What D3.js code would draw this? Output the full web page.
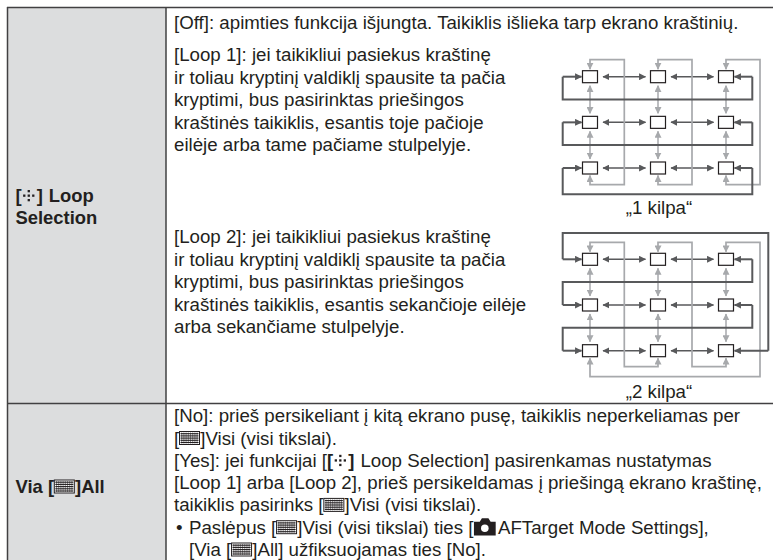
<!DOCTYPE html>
<meta charset="utf-8">
<style>
    html, body { margin: 0; background: #fff; }
    svg { display: block; }
    text { font-family: "Liberation Sans", Arial, sans-serif; font-size: 18.7px; fill: #231f20; white-space: pre; }
    .bold { font-weight: bold; font-size: 18.4px; }
</style>
<svg id="chart" width="773" height="560"></svg>
<script src="https://d3js.org/d3.v7.min.js"></script>
<script>
    const columns = [0, 1, 2];
    const rows = [0, 1, 2];
    const dark = "#58595b";
    const light = "#a7a9ac";

    // wrap-around loops as [column, row] anchors, strings are named gutters
    const loop1Dark = [
        [["L", 0], ["L", "r0"], ["R", "r0"], ["R", 0]],
        [["L", 1], ["L", "r1"], ["R", "r1"], ["R", 1]],
        [["L", 2], ["L", "r2"], ["R", "r2"], ["R", 2]]
    ];
    const loop1Light = [
        [[0, "inTop"], [0, "top"], ["c0", "top"], ["c0", "bot"], [0, "bot"], [0, "inBot"]],
        [[1, "inTop"], [1, "top"], ["c1", "top"], ["c1", "bot"], [1, "bot"], [1, "inBot"]],
        [[2, "inTop"], [2, "top"], ["c2", "top"], ["c2", "bot"], [2, "bot"], [2, "inBot"]]
    ];
    const loop2Dark = [
        [["L", 0], ["L", "top2"], ["O", "top2"], ["O", 2]],
        [["R", 0], ["R", "r0"], ["L", "r0"], ["L", 1]],
        [["R", 1], ["R", "r1"], ["L", "r1"], ["L", 2]]
    ];
    const loop2Light = [
        [[0, "inTop"], [0, "top"], ["c0", "top"], ["c0", "bot"], [1, "bot"], [1, "inBot"]],
        [[1, "inTop"], [1, "top"], ["c1", "top"], ["c1", "bot"], [2, "bot"], [2, "inBot"]],
        [[2, "inTop"], [2, "top"], ["c2", "top"], ["c2", "bot2"], [0, "bot2"], [0, "inBot"]]
    ];

    const textLines = [
        { x: 174, y: 28.5, parts: ["[Off]: apimties funkcija išjungta. Taikiklis išlieka tarp ekrano kraštinių."] },
        { x: 174, y: 61, parts: ["[Loop 1]: jei taikikliui pasiekus kraštinę"] },
        { x: 174, y: 83.5, parts: ["ir toliau kryptinį valdiklį spausite ta pačia"] },
        { x: 174, y: 106, parts: ["kryptimi, bus pasirinktas priešingos"] },
        { x: 174, y: 128.5, parts: ["kraštinės taikiklis, esantis toje pačioje"] },
        { x: 174, y: 151, parts: ["eilėje arba tame pačiame stulpelyje."] },
        { x: 174, y: 243, parts: ["[Loop 2]: jei taikikliui pasiekus kraštinę"] },
        { x: 174, y: 265.5, parts: ["ir toliau kryptinį valdiklį spausite ta pačia"] },
        { x: 174, y: 288, parts: ["kryptimi, bus pasirinktas priešingos"] },
        { x: 174, y: 310.5, parts: ["kraštinės taikiklis, esantis sekančioje eilėje"] },
        { x: 174, y: 333, parts: ["arba sekančiame stulpelyje."] },
        { x: 174, y: 422.2, parts: ["[No]: prieš persikeliant į kitą ekrano pusę, taikiklis neperkeliamas per"] },
        { x: 174, y: 444.5, parts: ["[", "grid", "]Visi (visi tikslai)."] },
        { x: 174, y: 466.8, parts: ["[Yes]: jei funkcijai [", "loop", "Loop Selection] pasirenkamas nustatymas"] },
        { x: 174, y: 489.1, parts: ["[Loop 1] arba [Loop 2], prieš persikeldamas į priešingą ekrano kraštinę,"] },
        { x: 174, y: 511.4, parts: ["taikiklis pasirinks [", "grid", "]Visi (visi tikslai)."] },
        { x: 176, y: 533.7, parts: ["•"] },
        { x: 189, y: 533.7, parts: ["Paslėpus [", "grid", "]Visi (visi tikslai) ties [", "cam", "AFTarget Mode Settings],"] },
        { x: 189, y: 556, parts: ["[Via [", "grid", "]All] užfiksuojamas ties [No]."] }
    ];
    const headLines = [
        { x: 15.5, y: 202, parts: ["loop", "Loop"] },
        { x: 15.5, y: 224, parts: ["Selection"] },
        { x: 15.5, y: 493, parts: ["Via [", "grid", "]All"] }
    ];
    const captions = [
        { x: 659, y: 214, label: "„1 kilpa“" },
        { x: 659, y: 398, label: "„2 kilpa“" }
    ];

    const svg = d3.select("#chart");
    const defs = svg.append("defs");
    [["d", dark], ["l", light]].forEach(([id, col]) => {
        defs.append("marker").attr("id", "arrow-" + id)
            .attr("viewBox", "0 0 6 6").attr("refX", 5.5).attr("refY", 3)
            .attr("markerUnits", "userSpaceOnUse")
            .attr("markerWidth", 7).attr("markerHeight", 7).attr("orient", "auto-start-reverse")
            .append("path").attr("d", "M0,0L6,3L0,6Z").attr("fill", col);
    });

    // table background and rules
    svg.append("rect").attr("x", 7).attr("y", 7).attr("width", 159).attr("height", 553).attr("fill", "#dcddde");
    const rules = [[7, 7.5, 773, 7.5], [7, 403.5, 773, 403.5], [7.5, 7, 7.5, 560], [166, 7, 166, 560]];
    svg.append("g").selectAll("line").data(rules).enter().append("line")
        .attr("x1", d => d[0]).attr("y1", d => d[1]).attr("x2", d => d[2]).attr("y2", d => d[3])
        .attr("stroke", "#414042").attr("stroke-width", 1.5);

    const xScale = d3.scalePoint().domain(columns).range([590, 726]);
    const lineGen = d3.line().curve(d3.curveLinear);

    function drawDiagram(g, yPos, gut, darkLoops, lightLoops) {
        gut.inTop = yPos(0) - 7.5;
        gut.inBot = yPos(2) + 7.5;
        const px = k => typeof k === "number" ? xScale(k) : gut[k];
        const py = k => typeof k === "number" ? yPos(k) : gut[k];

        // neighbour arrows
        const hArrows = rows.flatMap(r => [0, 1].map(c => ({ c, r })));
        g.selectAll(".h").data(hArrows).enter().append("line").attr("class", "h")
            .attr("x1", d => xScale(d.c) + 13).attr("x2", d => xScale(d.c + 1) - 12.5)
            .attr("y1", d => yPos(d.r)).attr("y2", d => yPos(d.r))
            .attr("stroke", dark).attr("stroke-width", 1.5)
            .attr("marker-start", "url(#arrow-d)").attr("marker-end", "url(#arrow-d)");
        const vArrows = columns.flatMap(c => [0, 1].map(r => ({ c, r })));
        g.selectAll(".v").data(vArrows).enter().append("line").attr("class", "v")
            .attr("x1", d => xScale(d.c)).attr("x2", d => xScale(d.c))
            .attr("y1", d => yPos(d.r) + 9).attr("y2", d => yPos(d.r + 1) - 9)
            .attr("stroke", light).attr("stroke-width", 1.5)
            .attr("marker-start", "url(#arrow-l)").attr("marker-end", "url(#arrow-l)");

        // wrap lines
        g.selectAll(".wl").data(lightLoops).enter().append("path").attr("class", "wl")
            .attr("d", d => lineGen(d.map(p => [px(p[0]), py(p[1])])))
            .attr("fill", "none").attr("stroke", light).attr("stroke-width", 1.7)
            .attr("marker-start", "url(#arrow-l)").attr("marker-end", "url(#arrow-l)");
        g.selectAll(".wd").data(darkLoops).enter().append("path").attr("class", "wd")
            .attr("d", d => lineGen(d.map(p => [px(p[0]), py(p[1])])))
            .attr("fill", "none").attr("stroke", dark).attr("stroke-width", 2);

        // arrow stubs into the squares at both ends of a row
        const stubs = rows.flatMap(r => [
            { x1: gut.L, x2: xScale(0) - 8.5, r },
            { x1: gut.O && r === 2 ? gut.O : gut.R, x2: xScale(2) + 8.5, r }
        ]);
        g.selectAll(".s").data(stubs).enter().append("line").attr("class", "s")
            .attr("x1", d => d.x1).attr("x2", d => d.x2)
            .attr("y1", d => yPos(d.r)).attr("y2", d => yPos(d.r))
            .attr("stroke", dark).attr("stroke-width", 2).attr("marker-end", "url(#arrow-d)");

        // focus squares
        const cells = rows.flatMap(r => columns.map(c => ({ c, r })));
        g.selectAll(".cell").data(cells).enter().append("rect").attr("class", "cell")
            .attr("x", d => xScale(d.c) - 7.5).attr("y", d => yPos(d.r) - 6)
            .attr("width", 15).attr("height", 12)
            .attr("fill", "#fff").attr("stroke", "#231f20").attr("stroke-width", 1.2);
    }

    const yLoop1 = d3.scalePoint().domain(rows).range([76.7, 168]);
    const yLoop2 = d3.scalePoint().domain(rows).range([259.3, 350.7]);
    drawDiagram(svg.append("g"), yLoop1,
        { L: 562.7, R: 752.3, c0: 624.3, c1: 692, c2: 760, top: 59.7, bot: 184.7, r0: 99.5, r1: 145, r2: 194.3 },
        loop1Dark, loop1Light);
    drawDiagram(svg.append("g"), yLoop2,
        { L: 562.7, R: 752.3, O: 768.3, c0: 624.3, c1: 692, c2: 760, top: 242.3, bot: 366.7, bot2: 376.7, top2: 233, r0: 282, r1: 327.7 },
        loop2Dark, loop2Light);

    svg.selectAll(".cap").data(captions).enter().append("text").attr("class", "cap")
        .attr("x", d => d.x).attr("y", d => d.y).attr("text-anchor", "middle").text(d => d.label);

    // lines of text with small inline icons
    function drawLine(line, bold) {
        const g = svg.append("g").attr("transform", `translate(${line.x},${line.y})`);
        let cx = 0;
        line.parts.forEach(p => {
            if (p === "grid") {
                const box = g.append("g").attr("transform", `translate(${cx + 0.3},-13)`);
                box.append("rect").attr("width", 20).attr("height", 13).attr("fill", "#fff").attr("stroke", "#231f20").attr("stroke-width", 1);
                d3.range(1, 6).forEach(i => box.append("line").attr("x1", 1).attr("x2", 19).attr("y1", i * 2.2).attr("y2", i * 2.2).attr("stroke", "#231f20").attr("stroke-width", 1.1));
                d3.range(1, 9).forEach(i => box.append("line").attr("x1", i * 2.2).attr("x2", i * 2.2).attr("y1", 1).attr("y2", 12).attr("stroke", "#231f20").attr("stroke-width", 0.5));
                cx += 21;
            } else if (p === "loop") {
                const open = g.append("text").attr("class", "bold").attr("x", cx).text("[");
                cx += open.node().getComputedTextLength();
                const dots = g.append("g").attr("transform", `translate(${cx},0)`);
                [[1.5, -7.5], [6, -12], [6, -7.5], [6, -3], [10.5, -7.5]].forEach(d => {
                    dots.append("rect").attr("x", d[0]).attr("y", d[1]).attr("width", 2.3).attr("height", 2.3).attr("fill", "#231f20");
                });
                cx += 15;
                const t = g.append("text").attr("class", "bold").attr("x", cx).text("] ");
                cx += t.node().getComputedTextLength() + 1;
            } else if (p === "cam") {
                const cam = g.append("g").attr("transform", `translate(${cx + 0.5},-15.5) scale(1.45)`);
                cam.append("path").attr("d", "M0,2.5H4L5.5,0H10L11.5,2.5H15V12H0Z").attr("fill", "#231f20");
                cam.append("circle").attr("cx", 7.5).attr("cy", 7).attr("r", 2.6).attr("fill", "#fff");
                cx += 24.5;
            } else {
                const t = g.append("text").attr("x", cx).text(p);
                if (bold) t.classed("bold", true);
                cx += t.node().getComputedTextLength();
            }
        });
    }
    textLines.forEach(l => drawLine(l, false));
    headLines.forEach(l => drawLine(l, true));
</script>
